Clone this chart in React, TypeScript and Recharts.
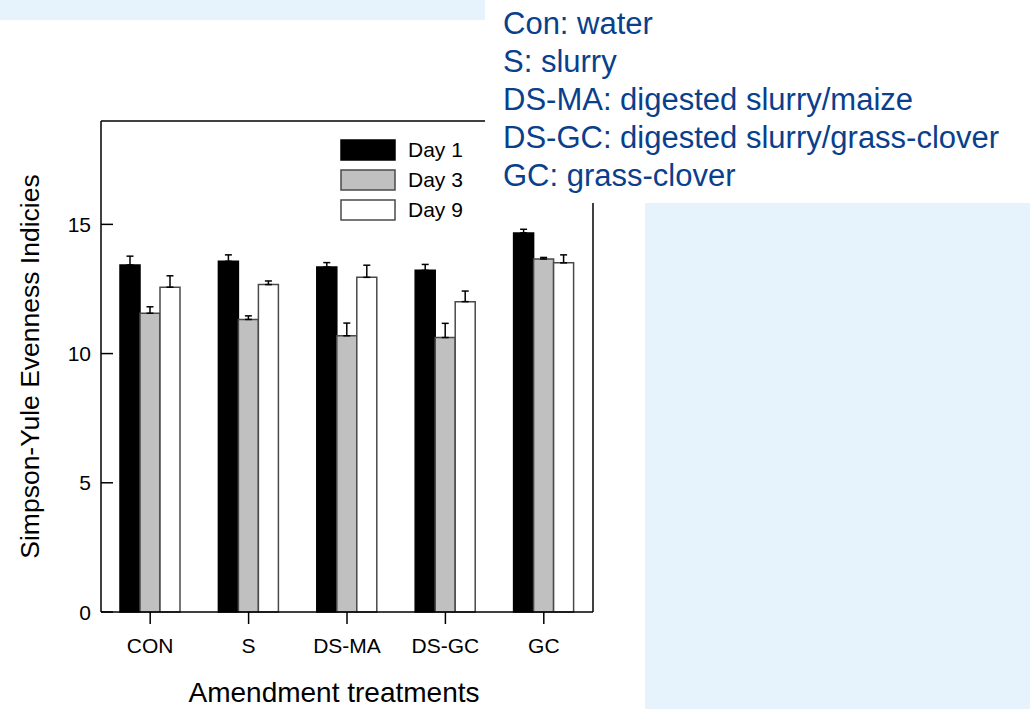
import React from "react";
import {
  BarChart,
  Bar,
  XAxis,
  YAxis,
  ErrorBar,
  Legend,
  Label,
  CartesianGrid,
} from "recharts";

const treatments = ["CON", "S", "DS-MA", "DS-GC", "GC"];

const day1 = [13.43, 13.57, 13.35, 13.22, 14.67];
const day1Err = [0.34, 0.25, 0.17, 0.23, 0.14];
const day3 = [11.56, 11.32, 10.69, 10.62, 13.66];
const day3Err = [0.25, 0.14, 0.49, 0.55, 0.06];
const day9 = [12.57, 12.67, 12.95, 12.01, 13.51];
const day9Err = [0.44, 0.14, 0.47, 0.41, 0.31];

const yTicks = [0, 5, 10, 15];

const abbreviations = [
  "Con: water",
  "S: slurry",
  "DS-MA: digested slurry/maize",
  "DS-GC: digested slurry/grass-clover",
  "GC: grass-clover",
];

const FONT = "'Liberation Sans', Arial, Helvetica, sans-serif";
const TEXT_BLUE = "#0a3f8c";
const PANEL_BLUE = "#e6f3fd";

const PLOT_LEFT = 101;
const PLOT_RIGHT = 593;
const PLOT_TOP = 121;
const PLOT_BOTTOM = 612;
const W = 1030;
const H = 709;
const Y_AXIS_W = 60;
const X_AXIS_H = 60;

// upper-only whiskers: [below, above]
const rows = treatments.map((name, i) => ({
  name,
  day1: day1[i],
  day1Err: [0, day1Err[i]],
  day3: day3[i],
  day3Err: [0, day3Err[i]],
  day9: day9[i],
  day9Err: [0, day9Err[i]],
}));

const seriesStyle: Record<string, { fill: string; stroke: string }> = {
  "Day 1": { fill: "#000000", stroke: "#000000" },
  "Day 3": { fill: "#c0c0c0", stroke: "#4a4a4a" },
  "Day 9": { fill: "#ffffff", stroke: "#4a4a4a" },
};

function YTick(props: any) {
  const { y, payload } = props;
  return (
    <g>
      <line
        x1={PLOT_LEFT}
        x2={PLOT_LEFT + 12}
        y1={y}
        y2={y}
        stroke="#000"
        strokeWidth={1.5}
      />
      <text
        x={PLOT_LEFT - 10}
        y={y}
        dy="0.36em"
        textAnchor="end"
        fontSize={21}
        fill="#000"
        fontFamily={FONT}
      >
        {payload.value}
      </text>
    </g>
  );
}

function LegendBox(props: any) {
  const payload = props.payload ?? [];
  return (
    <div style={{ fontFamily: FONT }}>
      {payload.map((entry: any) => {
        const s = seriesStyle[entry.value] ?? { fill: entry.color, stroke: "#000" };
        return (
          <div
            key={entry.value}
            style={{ display: "flex", alignItems: "center", height: 30 }}
          >
            <svg width={56} height={22} style={{ display: "block" }}>
              <rect
                x={1}
                y={1}
                width={54}
                height={20}
                fill={s.fill}
                stroke={s.stroke}
                strokeWidth={1.5}
              />
            </svg>
            <span style={{ marginLeft: 12, fontSize: 21, color: "#000" }}>
              {entry.value}
            </span>
          </div>
        );
      })}
    </div>
  );
}

// closes the box: top edge and right edge of the plot area
const topEdge = (p: any) => [p?.offset ? p.offset.top : PLOT_TOP];
const rightEdge = (p: any) => [
  p?.offset ? p.offset.left + p.offset.width : PLOT_RIGHT,
];

export default function App() {
  return (
    <div
      style={{
        position: "absolute",
        left: 0,
        top: 0,
        width: W,
        height: H,
        background: "#fff",
        overflow: "hidden",
        fontFamily: FONT,
      }}
    >
      <div
        style={{
          position: "absolute",
          left: 0,
          top: 0,
          width: 485,
          height: 20,
          background: PANEL_BLUE,
        }}
      />
      <div
        style={{
          position: "absolute",
          left: 645,
          top: 203,
          width: W - 645,
          height: H - 203,
          background: PANEL_BLUE,
        }}
      />

      <BarChart
        width={W}
        height={H}
        data={rows}
        barGap={0}
        barSize={20}
        margin={{
          top: PLOT_TOP,
          right: W - PLOT_RIGHT,
          bottom: H - PLOT_BOTTOM - X_AXIS_H,
          left: PLOT_LEFT - Y_AXIS_W,
        }}
        style={{ fontFamily: FONT }}
      >
        <CartesianGrid
          stroke="#000"
          strokeWidth={1.5}
          horizontalCoordinatesGenerator={topEdge}
          verticalCoordinatesGenerator={rightEdge}
        />
        <XAxis
          dataKey="name"
          height={X_AXIS_H}
          axisLine={{ stroke: "#000", strokeWidth: 1.5 }}
          tickLine={{ stroke: "#000", strokeWidth: 1.5 }}
          tickSize={12}
          tickMargin={14}
          tick={{ fontSize: 21, fill: "#000", fontFamily: FONT }}
          interval={0}
        >
          <Label
            content={(p: any) => {
              const vb = p.viewBox ?? {};
              return (
                <text
                  x={vb.x + vb.width / 2 - 13}
                  y={702}
                  textAnchor="middle"
                  fontSize={28}
                  fill="#000"
                  fontFamily={FONT}
                >
                  Amendment treatments
                </text>
              );
            }}
          />
        </XAxis>
        <YAxis
          type="number"
          domain={[0, 19]}
          ticks={yTicks}
          width={Y_AXIS_W}
          axisLine={{ stroke: "#000", strokeWidth: 1.5 }}
          tickLine={false}
          tick={<YTick />}
        >
          <Label
            content={(p: any) => {
              const vb = p.viewBox ?? {};
              const cx = 39;
              const cy = vb.y + vb.height / 2;
              return (
                <text
                  x={cx}
                  y={cy}
                  transform={`rotate(-90 ${cx} ${cy})`}
                  textAnchor="middle"
                  fontSize={26.5}
                  fill="#000"
                  fontFamily={FONT}
                >
                  Simpson-Yule Evenness Indicies
                </text>
              );
            }}
          />
        </YAxis>
        <Legend
          layout="vertical"
          align="center"
          verticalAlign="middle"
          wrapperStyle={{ left: 340, top: 135, width: 140 }}
          content={<LegendBox />}
        />
        <Bar
          dataKey="day1"
          name="Day 1"
          fill={seriesStyle["Day 1"].fill}
          stroke={seriesStyle["Day 1"].stroke}
          strokeWidth={1.5}
          isAnimationActive={false}
        >
          <ErrorBar
            dataKey="day1Err"
            direction="y"
            width={3.5}
            stroke="#000"
            strokeWidth={1.5}
            isAnimationActive={false}
          />
        </Bar>
        <Bar
          dataKey="day3"
          name="Day 3"
          fill={seriesStyle["Day 3"].fill}
          stroke={seriesStyle["Day 3"].stroke}
          strokeWidth={1.5}
          isAnimationActive={false}
        >
          <ErrorBar
            dataKey="day3Err"
            direction="y"
            width={3.5}
            stroke="#000"
            strokeWidth={1.5}
            isAnimationActive={false}
          />
        </Bar>
        <Bar
          dataKey="day9"
          name="Day 9"
          fill={seriesStyle["Day 9"].fill}
          stroke={seriesStyle["Day 9"].stroke}
          strokeWidth={1.5}
          isAnimationActive={false}
        >
          <ErrorBar
            dataKey="day9Err"
            direction="y"
            width={3.5}
            stroke="#000"
            strokeWidth={1.5}
            isAnimationActive={false}
          />
        </Bar>
      </BarChart>

      <div
        style={{
          position: "absolute",
          left: 485,
          top: 0,
          width: W - 485,
          height: 203,
          background: "#fff",
        }}
      >
        <div
          style={{
            position: "absolute",
            left: 18,
            top: 5,
            color: TEXT_BLUE,
            fontSize: 31,
            lineHeight: "38px",
            whiteSpace: "nowrap",
          }}
        >
          {abbreviations.map((line) => (
            <div key={line}>{line}</div>
          ))}
        </div>
      </div>
    </div>
  );
}
